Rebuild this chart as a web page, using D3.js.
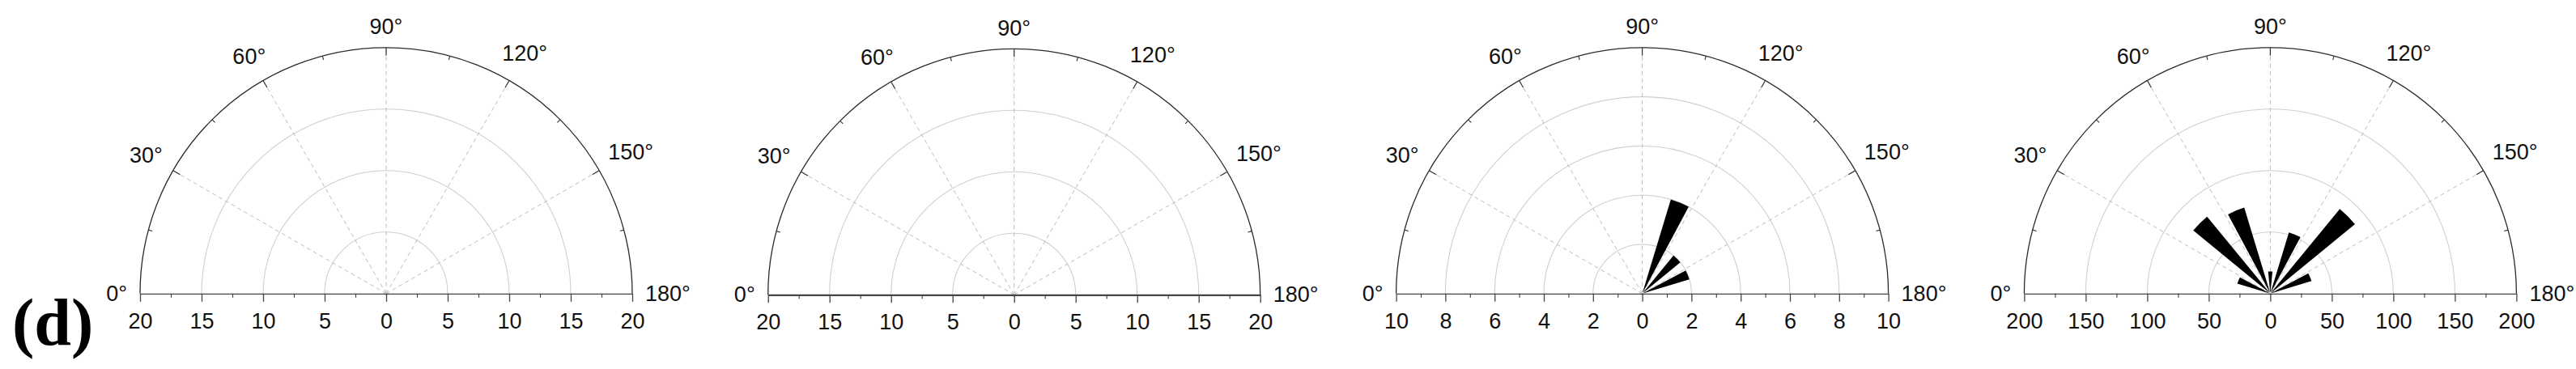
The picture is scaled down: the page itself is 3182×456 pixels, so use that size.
<!DOCTYPE html>
<html><head><meta charset="utf-8">
<script src="https://cdn.jsdelivr.net/npm/d3@7"></script>
<style>body{margin:0;background:#fff}</style></head>
<body>
<svg id="c" width="3182" height="456"></svg>
<script>
// ---- data ----
const panelLabel = "(d)";
const angleTicks = [0, 30, 60, 90, 120, 150, 180];
const minorAngleTicks = [15, 45, 75, 105, 135, 165];
const binCenters = [22.5, 45, 67.5, 90, 112.5, 135, 157.5];
const binWidth = 11.25;
const radialMax = [20, 20, 10, 200];
const radialStep = [5, 5, 2, 50];
const p1Values = [0, 0, 0, 0, 0, 0, 0];
const p2Values = [0, 0, 0, 0, 0, 0, 0];
const p3Values = [0, 0, 0, 0, 4, 2, 2];
const p4Values = [28, 81, 73, 18, 52, 89, 35];
const panelValues = [p1Values, p2Values, p3Values, p4Values];

// ---- layout ----
const centersX = [477, 1252.7, 2028.6, 2804.4];
const centersY = [362.8, 364.3, 362.8, 362.8];
const R = 304;
const baseWidth = [1.3, 2.2, 1.3, 1.3];
const rad = d => d * Math.PI / 180;
const d3a = th => rad(th - 90);

const svg = d3.select("#c");
svg.append("text").attr("x", 15).attr("y", 426)
  .attr("font-family", "'Liberation Serif','Times New Roman',serif")
  .attr("font-weight", "bold").attr("font-size", 82).attr("fill", "#000")
  .text(panelLabel);

const font = "'Liberation Sans Narrow','Arial Narrow','Liberation Sans',Arial,sans-serif";
const fs = 27;

panelValues.forEach((vals, i) => {
  const max = radialMax[i], step = radialStep[i];
  const cx = centersX[i], cy = centersY[i];
  const r = d3.scaleLinear().domain([0, max]).range([0, R]);
  const g = svg.append("g").attr("transform", `translate(${cx},${cy})`);

  // grid circles
  const gridVals = d3.range(step, max, step);
  const arcLine = d3.arc().startAngle(d3a(0)).endAngle(d3a(180));
  g.selectAll(".grid").data(gridVals).join("path")
    .attr("d", v => arcLine({innerRadius: r(v), outerRadius: r(v)}))
    .attr("fill", "none").attr("stroke", "#cfcfcf").attr("stroke-width", 1.1);

  // radial dashed lines
  const inner = angleTicks.filter(a => a > 0 && a < 180);
  g.selectAll(".rad").data(inner).join("line")
    .attr("x1", 0).attr("y1", 0)
    .attr("x2", a => -R * Math.cos(rad(a))).attr("y2", a => -R * Math.sin(rad(a)))
    .attr("stroke", "#bdbdbd").attr("stroke-width", 1).attr("stroke-dasharray", "5,4");

  // bars
  const wedge = d3.arc().innerRadius(0);
  g.selectAll(".bar").data(binCenters.map((c, k) => ({c, v: vals[k]})).filter(d => d.v > 0))
    .join("path")
    .attr("d", d => wedge({outerRadius: r(d.v), startAngle: d3a(d.c - binWidth / 2), endAngle: d3a(d.c + binWidth / 2)}))
    .attr("fill", "#000");

  g.append("circle").attr("r", 2.5).attr("fill", "#d0d0d0");

  // outer arc
  g.append("path").attr("d", arcLine({innerRadius: R, outerRadius: R}))
    .attr("fill", "none").attr("stroke", "#2a2a2a").attr("stroke-width", 1.3);

  // angular ticks
  g.selectAll(".maj").data(inner).join("line")
    .attr("x1", a => -R * Math.cos(rad(a))).attr("y1", a => -R * Math.sin(rad(a)))
    .attr("x2", a => -(R - 10) * Math.cos(rad(a))).attr("y2", a => -(R - 10) * Math.sin(rad(a)))
    .attr("stroke", "#333").attr("stroke-width", 1.2);
  g.selectAll(".min").data(minorAngleTicks).join("line")
    .attr("x1", a => -R * Math.cos(rad(a))).attr("y1", a => -R * Math.sin(rad(a)))
    .attr("x2", a => -(R - 5) * Math.cos(rad(a))).attr("y2", a => -(R - 5) * Math.sin(rad(a)))
    .attr("stroke", "#333").attr("stroke-width", 1.1);

  // angle labels
  angleTicks.forEach(a => {
    const t = g.append("text").attr("font-family", font).attr("font-size", fs)
      .attr("fill", "#111").attr("text-anchor", "middle").attr("dominant-baseline", "central")
      .text(a + "°");
    const w = t.node().getComputedTextLength();
    const h = 19;
    const dist = R + 16 + (w / 2) * Math.abs(Math.cos(rad(a))) + (h / 2) * Math.abs(Math.sin(rad(a)));
    t.attr("x", -dist * Math.cos(rad(a))).attr("y", -dist * Math.sin(rad(a)));
  });

  // baseline axis
  const x = d3.scaleLinear().domain([-max, max]).range([-R, R]);
  const majors = d3.range(-max, max + step / 2, step);
  const minors = d3.range(-max + step / 2, max, step);
  const minorAxis = d3.axisBottom(x).tickValues(minors).tickSize(5).tickSizeOuter(0).tickFormat("");
  const majorAxis = d3.axisBottom(x).tickValues(majors).tickSize(10).tickSizeOuter(0)
    .tickPadding(14).tickFormat(v => Math.abs(Math.round(v * 100) / 100));
  const ga = g.append("g").call(minorAxis);
  ga.selectAll("line").attr("stroke", "#444").attr("stroke-width", 1.2);
  ga.select(".domain").remove();
  const gb = g.append("g").call(majorAxis);
  gb.select(".domain").attr("stroke", "#444").attr("stroke-width", baseWidth[i]);
  gb.selectAll("line").attr("stroke", "#444").attr("stroke-width", 1.3);
  gb.selectAll("text").attr("font-family", font).attr("font-size", fs).attr("fill", "#111");
});
</script>
</body></html>
